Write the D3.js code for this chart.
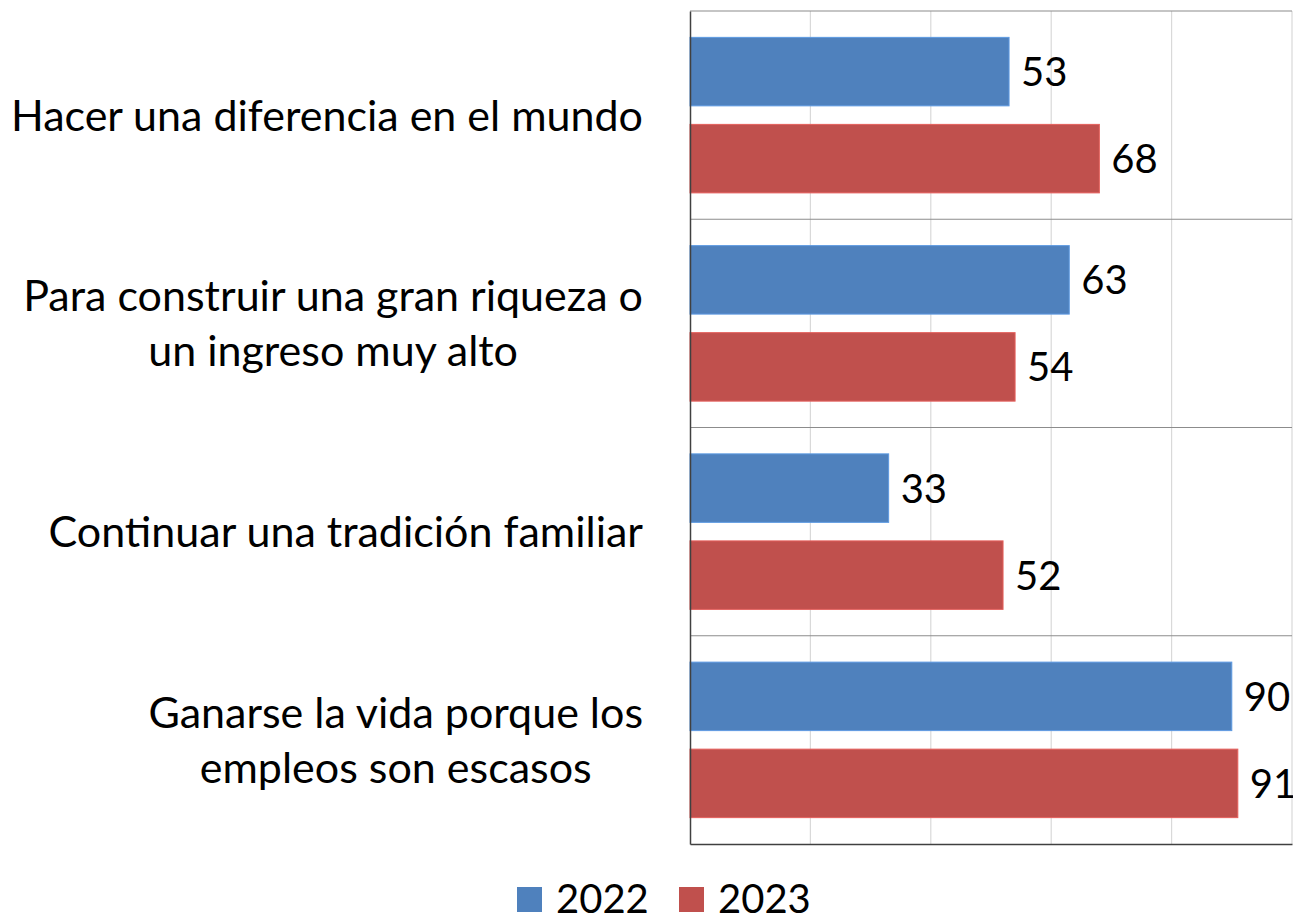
<!DOCTYPE html>
<html>
<head>
<meta charset="utf-8">
<script src="https://cdn.jsdelivr.net/npm/d3@7"></script>
<style>
  html, body { margin: 0; padding: 0; background: #ffffff; }
  svg { display: block; }
  text { font-family: Lato, "Open Sans", sans-serif; fill: #000; }
</style>
</head>
<body>
<svg id="chart" width="1293" height="914"></svg>
<script>
// ---- data ----
const categories = [
  ["Hacer una diferencia en el mundo"],
  ["Para construir una gran riqueza o", "un ingreso muy alto"],
  ["Continuar una tradición familiar"],
  ["Ganarse la vida porque los", "empleos son escasos"]
];
const seriesNames = ["2022", "2023"];
const values2022 = [53, 63, 33, 90];
const values2023 = [68, 54, 52, 91];
const gridTicks = [0, 20, 40, 60, 80, 100];
const colors = ["#4F81BD", "#C0504D"];

// ---- layout ----
const W = 1293, H = 914;
const plot = { left: 690, right: 1292, top: 11, bottom: 844 };
const labelFont = 43, valueFont = 40;

const svg = d3.select("#chart");

const x = d3.scaleLinear().domain([0, 100]).range([plot.left, plot.right]);
const catKeys = categories.map((c, i) => i);
const y = d3.scaleBand().domain(catKeys).range([plot.top, plot.bottom]).paddingInner(0).paddingOuter(0);
const ySub = d3.scaleBand().domain(seriesNames).range([0, y.bandwidth()]).paddingInner(0.213).paddingOuter(0.303);

const rows = catKeys.map(i => ({ i, vals: [values2022[i], values2023[i]] }));

// vertical gridlines
svg.append("g").selectAll("line").data(gridTicks.filter(t => t > 0))
  .join("line")
  .attr("x1", d => x(d)).attr("x2", d => x(d))
  .attr("y1", plot.top).attr("y2", plot.bottom)
  .attr("stroke", "#d9d9d9").attr("stroke-width", 1.2);

// category separators
svg.append("g").selectAll("line").data(catKeys.slice(1))
  .join("line")
  .attr("x1", plot.left).attr("x2", plot.right)
  .attr("y1", d => y(d)).attr("y2", d => y(d))
  .attr("stroke", "#8c8c8c").attr("stroke-width", 1.2);

// top border
svg.append("line")
  .attr("x1", plot.left).attr("x2", plot.right)
  .attr("y1", plot.top).attr("y2", plot.top)
  .attr("stroke", "#8c8c8c").attr("stroke-width", 1.2);

// bars
const groups = svg.append("g").selectAll("g").data(rows).join("g")
  .attr("transform", d => `translate(0,${y(d.i)})`);

groups.selectAll("rect").data(d => d.vals.map((v, k) => ({ v, k })))
  .join("rect")
  .attr("x", x(0))
  .attr("y", d => ySub(seriesNames[d.k]))
  .attr("width", d => x(d.v) - x(0))
  .attr("height", ySub.bandwidth())
  .attr("fill", d => colors[d.k])
  .attr("stroke", d => d3.color(colors[d.k]).brighter(0.5))
  .attr("stroke-width", 1);

groups.selectAll("text.val").data(d => d.vals.map((v, k) => ({ v, k })))
  .join("text")
  .attr("class", "val")
  .attr("x", d => x(d.v) + 12)
  .attr("y", d => ySub(seriesNames[d.k]) + ySub.bandwidth() / 2)
  .attr("dy", "0.36em")
  .attr("font-size", valueFont)
  .text(d => d.v);

// axes (left and bottom dark lines)
const xAxis = d3.axisBottom(x).tickValues([]).tickSizeOuter(0);
svg.append("g").attr("transform", `translate(0,${plot.bottom})`).call(xAxis)
  .select(".domain").attr("stroke", "#404040").attr("stroke-width", 1.5);
const yAxis = d3.axisLeft(y).tickValues([]).tickSizeOuter(0);
svg.append("g").attr("transform", `translate(${plot.left},0)`).call(yAxis)
  .select(".domain").attr("stroke", "#404040").attr("stroke-width", 1.5);

// category labels: block right-aligned, lines centered
const labelRight = 643, lineH = 55;
categories.forEach((lines, i) => {
  const g = svg.append("g");
  const cy = y(i) + y.bandwidth() / 2;
  const texts = lines.map((ln, j) => g.append("text")
    .attr("font-size", labelFont)
    .attr("text-anchor", "middle")
    .attr("y", cy + (j - (lines.length - 1) / 2) * lineH)
    .attr("dy", "0.36em")
    .text(ln));
  const maxW = d3.max(texts, t => t.node().getComputedTextLength());
  const cx = labelRight - maxW / 2;
  texts.forEach(t => t.attr("x", cx));
});

// legend
const legend = svg.append("g");
const legendItems = [
  { name: seriesNames[0], color: colors[0], x: 517 },
  { name: seriesNames[1], color: colors[1], x: 679 }
];
legendItems.forEach(it => {
  legend.append("rect").attr("x", it.x).attr("y", 887).attr("width", 25).attr("height", 25)
    .attr("fill", it.color);
  legend.append("text").attr("x", it.x + 39).attr("y", 898.5).attr("dy", "0.36em")
    .attr("font-size", valueFont).text(it.name);
});
</script>
</body>
</html>
